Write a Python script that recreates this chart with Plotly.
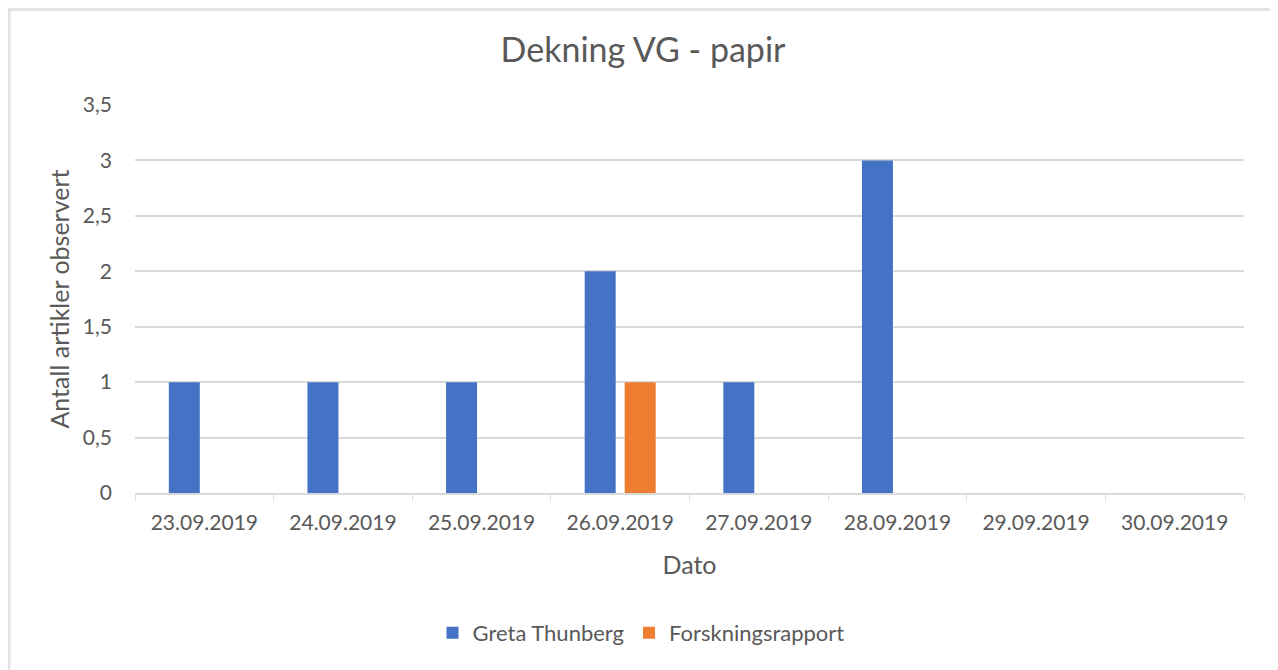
import plotly.graph_objects as go

dates = ["23.09.2019", "24.09.2019", "25.09.2019", "26.09.2019",
         "27.09.2019", "28.09.2019", "29.09.2019", "30.09.2019"]
greta = [1, 1, 1, 2, 1, 3, 0, 0]
forskning = [0, 0, 0, 1, 0, 0, 0, 0]
y_ticks = [0, 0.5, 1, 1.5, 2, 2.5, 3, 3.5]
y_tick_labels = ["0", "0,5", "1", "1,5", "2", "2,5", "3", "3,5"]

FONT = "Lato"
TXT = "#595959"
GRID = "#d9d9d9"

fig = go.Figure()
fig.add_trace(go.Bar(name="Greta Thunberg", x=dates, y=greta,
                     marker=dict(color="#4472C4", line=dict(width=0))))
fig.add_trace(go.Bar(name="Forskningsrapport", x=dates, y=forskning,
                     marker=dict(color="#ED7D31", line=dict(width=0))))

# page is offset by the 8px body margin; figure coords = page coords - 8
OFF = 8
W, H = 1270, 662
L, T = 135 - OFF, 105 - OFF
R = W - (1244 - OFF)
B = H - (493 - OFF)
pw = W - L - R
ph = H - T - B


def py(page_y):
    return (ph - (page_y - OFF - T)) / ph


def px(page_x):
    return (page_x - OFF - L) / pw


fig.update_layout(
    width=W, height=H,
    margin=dict(l=L, r=R, t=T, b=B),
    paper_bgcolor="white", plot_bgcolor="white",
    barmode="group", bargap=0.423, bargroupgap=0.225,
    font=dict(family=FONT, color=TXT, size=21),
    title=dict(text="Dekning VG - papir", x=0.5, xanchor="center",
               y=1 - (50 - OFF) / H, yanchor="middle",
               font=dict(family=FONT, size=34, color=TXT)),
    legend=dict(orientation="h", x=px(641), xanchor="center",
                y=py(633), yanchor="middle",
                font=dict(size=22, color=TXT), itemwidth=30,
                traceorder="normal"),
    xaxis=dict(
        showline=True, linecolor=GRID, linewidth=1.5,
        ticks="outside", tickson="boundaries", ticklen=6, tickcolor=GRID,
        ticklabelstandoff=10,
        tickfont=dict(size=21, color=TXT),
        title=dict(text="Dato", font=dict(size=25, color=TXT), standoff=24),
        showgrid=False,
    ),
    yaxis=dict(
        range=[0, 3.5], tickvals=y_ticks, ticktext=y_tick_labels,
        showgrid=True, gridcolor=GRID, gridwidth=1.5,
        zeroline=False, showline=False,
        ticks="", ticklabelstandoff=22,
        tickfont=dict(size=21, color=TXT),
        title=dict(text="Antall artikler observert", font=dict(size=25, color=TXT), standoff=6),
    ),
    shapes=[dict(type="rect", xref="paper", yref="paper",
                 x0=px(9), x1=px(1274.5),
                 y0=py(9.5), y1=py(720),
                 line=dict(color="#e3e3e3", width=3), fillcolor="rgba(0,0,0,0)",
                 layer="below")],
)

fig.write_html("out.html")
